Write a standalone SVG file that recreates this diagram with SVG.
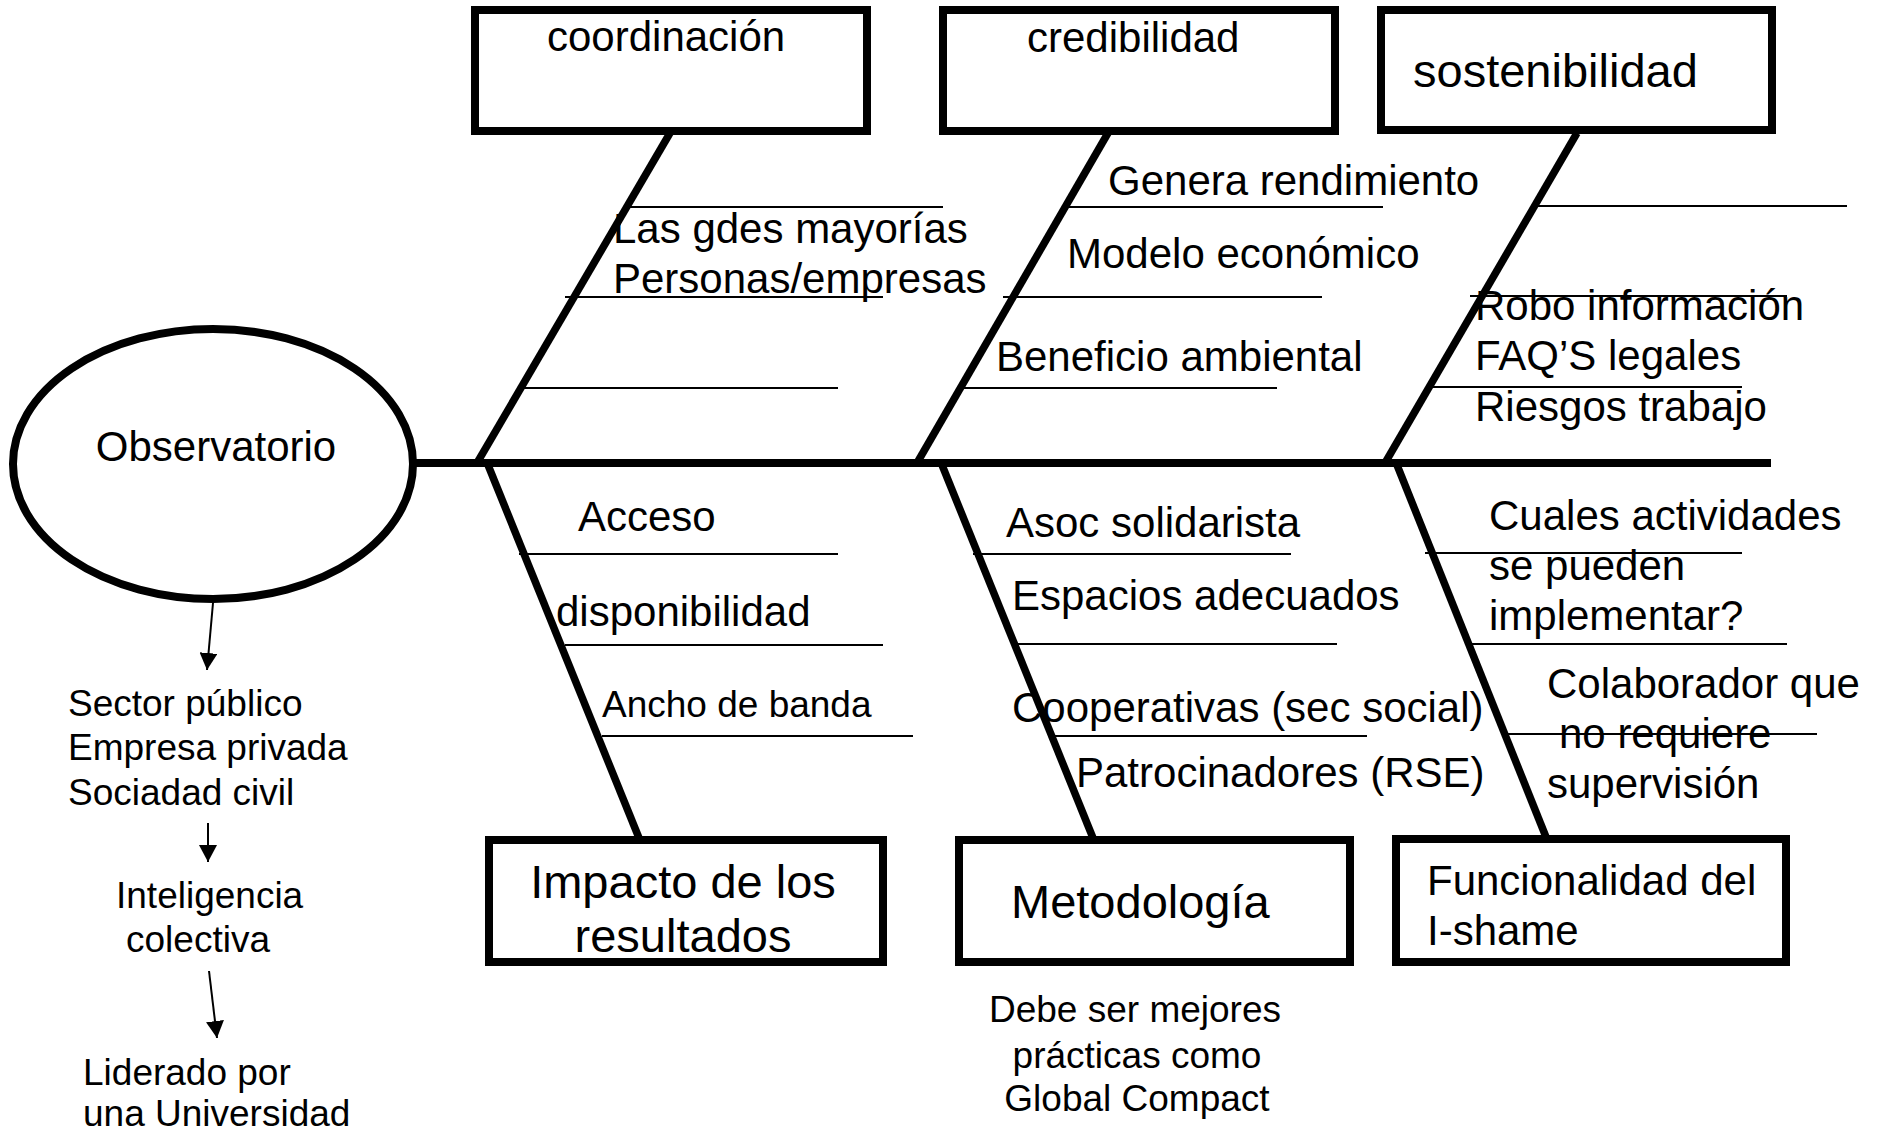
<svg xmlns="http://www.w3.org/2000/svg" width="1887" height="1132" viewBox="0 0 1887 1132">
<style>
.bg{fill:#fff}
.box{fill:#fff;stroke:#000;stroke-width:8}
.ell{fill:#fff;stroke:#000;stroke-width:8}
.spine{stroke:#000;stroke-width:8;fill:none}
.bone{stroke:#000;stroke-width:7.5;fill:none;stroke-linecap:butt}
.sub{stroke:#000;stroke-width:2;fill:none}
.arr{stroke:#000;stroke-width:2;fill:none}
text{font-family:"Liberation Sans",Arial,sans-serif;fill:#000}
.m{font-size:42px}
.l{font-size:47px}
.s{font-size:37px}
.c{text-anchor:middle}
</style>
<defs>
<marker id="ah" viewBox="0 0 17 18" refX="17" refY="9" markerWidth="17" markerHeight="18" markerUnits="userSpaceOnUse" orient="auto">
<path d="M0,0 L17,9 L0,18 z" fill="#000"/>
</marker>
</defs>
<rect class="bg" x="0" y="0" width="1887" height="1132"/>

<g id="connectors">
<line class="spine" x1="411" y1="463" x2="1771" y2="463"/>
<line class="bone" x1="670" y1="133" x2="477" y2="463"/>
<line class="bone" x1="1108" y1="133" x2="917" y2="463"/>
<line class="bone" x1="1577" y1="133" x2="1385" y2="463"/>
<line class="bone" x1="488" y1="465" x2="639" y2="838"/>
<line class="bone" x1="942" y1="465" x2="1093" y2="838"/>
<line class="bone" x1="1397" y1="465" x2="1546" y2="837"/>
<line class="sub" x1="630" y1="207" x2="943" y2="207"/>
<line class="sub" x1="565" y1="297" x2="883" y2="297"/>
<line class="sub" x1="522" y1="388" x2="838" y2="388"/>
<line class="sub" x1="1068" y1="207" x2="1383" y2="207"/>
<line class="sub" x1="1003" y1="297" x2="1322" y2="297"/>
<line class="sub" x1="962" y1="388" x2="1277" y2="388"/>
<line class="sub" x1="1535" y1="206" x2="1847" y2="206"/>
<line class="sub" x1="1470" y1="296" x2="1787" y2="296"/>
<line class="sub" x1="1428" y1="387" x2="1742" y2="387"/>
<line class="sub" x1="519" y1="554" x2="838" y2="554"/>
<line class="sub" x1="565" y1="645" x2="883" y2="645"/>
<line class="sub" x1="602" y1="736" x2="913" y2="736"/>
<line class="sub" x1="973" y1="554" x2="1291" y2="554"/>
<line class="sub" x1="1018" y1="644" x2="1337" y2="644"/>
<line class="sub" x1="1055" y1="736" x2="1367" y2="736"/>
<line class="sub" x1="1425" y1="553" x2="1742" y2="553"/>
<line class="sub" x1="1472" y1="644" x2="1787" y2="644"/>
<line class="sub" x1="1507" y1="734" x2="1817" y2="734"/>
<line class="arr" x1="213" y1="603" x2="207" y2="670" marker-end="url(#ah)"/>
<line class="arr" x1="208" y1="823" x2="208" y2="862" marker-end="url(#ah)"/>
<line class="arr" x1="209" y1="971" x2="217" y2="1038" marker-end="url(#ah)"/>
</g>

<g id="observatorio">
<ellipse class="ell" cx="213" cy="464" rx="200" ry="135"/>
<text class="m c" x="216" y="461">Observatorio</text>
</g>

<g id="coordinacion">
<rect class="box" x="475" y="10" width="392" height="121"/>
<text class="m" x="547" y="51">coordinación</text>
</g>
<g id="credibilidad">
<rect class="box" x="943" y="10" width="392" height="121"/>
<text class="m" x="1027" y="52">credibilidad</text>
</g>
<g id="sostenibilidad">
<rect class="box" x="1381" y="10" width="391" height="120"/>
<text class="l" x="1413" y="87">sostenibilidad</text>
</g>
<g id="impacto">
<rect class="box" x="489" y="840" width="394" height="122"/>
<text class="l c" x="683" y="898">Impacto de los</text>
<text class="l c" x="683" y="952">resultados</text>
</g>
<g id="metodologia">
<rect class="box" x="959" y="840" width="391" height="122"/>
<text class="l" x="1011" y="918">Metodología</text>
</g>
<g id="funcionalidad">
<rect class="box" x="1396" y="839" width="390" height="123"/>
<text class="m" x="1427" y="895">Funcionalidad del</text>
<text class="m" x="1427" y="945">I-shame</text>
</g>

<g id="causas-coordinacion">
<text class="m" x="613" y="243">Las gdes mayorías</text>
<text class="m" x="613" y="293">Personas/empresas</text>
</g>
<g id="causas-credibilidad">
<text class="m" x="1108" y="195">Genera rendimiento</text>
<text class="m" x="1067" y="268">Modelo económico</text>
<text class="m" x="996" y="371">Beneficio ambiental</text>
</g>
<g id="causas-sostenibilidad">
<text class="m" x="1475" y="320">Robo información</text>
<text class="m" x="1475" y="370">FAQ’S legales</text>
<text class="m" x="1475" y="421">Riesgos trabajo</text>
</g>
<g id="causas-impacto">
<text class="m" x="578" y="531">Acceso</text>
<text class="m" x="556" y="626">disponibilidad</text>
<text class="s" x="602" y="717">Ancho de banda</text>
</g>
<g id="causas-metodologia">
<text class="m" x="1006" y="537">Asoc solidarista</text>
<text class="m" x="1012" y="610">Espacios adecuados</text>
<text class="m" x="1012" y="722">Cooperativas (sec social)</text>
<text class="m" x="1076" y="787">Patrocinadores (RSE)</text>
</g>
<g id="causas-funcionalidad">
<text class="m" x="1489" y="530">Cuales actividades</text>
<text class="m" x="1489" y="580">se pueden</text>
<text class="m" x="1489" y="630">implementar?</text>
<text class="m" x="1547" y="698">Colaborador que</text>
<text class="m" x="1559" y="748">no requiere</text>
<text class="m" x="1547" y="798">supervisión</text>
</g>

<g id="sectores">
<text class="s" x="68" y="716">Sector público</text>
<text class="s" x="68" y="760">Empresa privada</text>
<text class="s" x="68" y="805">Sociadad civil</text>
</g>
<g id="inteligencia">
<text class="s" x="116" y="908">Inteligencia</text>
<text class="s" x="126" y="952">colectiva</text>
</g>
<g id="liderado">
<text class="s" x="83" y="1085">Liderado por</text>
<text class="s" x="83" y="1126">una Universidad</text>
</g>
<g id="nota-metodologia">
<text class="s c" x="1135" y="1022">Debe ser mejores</text>
<text class="s c" x="1137" y="1068">prácticas como</text>
<text class="s c" x="1137" y="1111">Global Compact</text>
</g>
</svg>
